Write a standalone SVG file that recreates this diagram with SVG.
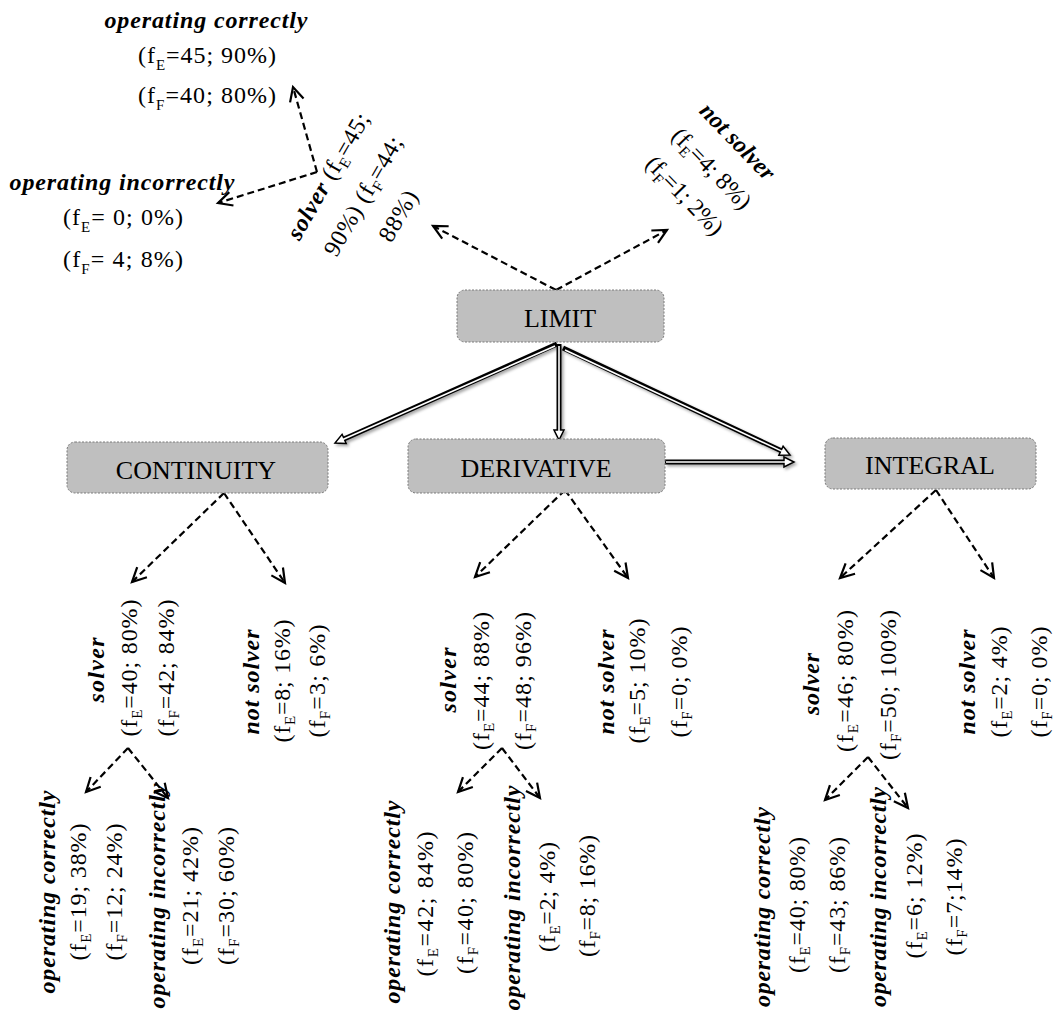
<svg xmlns="http://www.w3.org/2000/svg" width="1055" height="1010" viewBox="0 0 1055 1010">
<style>
.box{fill:#bfbfbf;stroke:#7a7a7a;stroke-width:1;stroke-dasharray:2 1.5}
.bt{font-family:"Liberation Serif","Times New Roman",serif;font-size:26px;text-anchor:middle;fill:#000}
.t{font-family:"Liberation Serif","Times New Roman",serif;font-size:24px;fill:#000;text-anchor:middle}
.bi{font-weight:bold;font-style:italic}
.s{font-size:15px}
.dash{stroke:#000;stroke-width:2.2;stroke-dasharray:7 4;fill:none;marker-end:url(#v)}
.dbl{stroke:#000;stroke-width:5;fill:none;marker-end:url(#h)}
.dbi{stroke:#fff;stroke-width:1.6;fill:none}
</style>
<defs>
<marker id="v" markerUnits="userSpaceOnUse" orient="auto" refX="0" refY="0" markerWidth="20" markerHeight="20" overflow="visible">
<path d="M-14,-7 L0,0 L-14,7" fill="none" stroke="#000" stroke-width="2.2"/>
</marker>
<marker id="h" markerUnits="userSpaceOnUse" orient="auto" refX="2" refY="0" markerWidth="14" markerHeight="14" overflow="visible">
<path d="M0,-5 L10,0 L0,5 Z" fill="#fff" stroke="#000" stroke-width="1.5"/>
</marker>
<filter id="sh" x="-10%" y="-10%" width="130%" height="130%">
<feDropShadow dx="2" dy="2" stdDeviation="1.5" flood-color="#000" flood-opacity="0.35"/>
</filter>
</defs>

<g id="connectors">
<g filter="url(#sh)">
<path class="dbl" d="M557,344 L342.3,439.7"/>
<path class="dbl" d="M559,344 L559,432"/>
<path class="dbl" d="M563,348 L782.8,451.6"/>
<path class="dbl" d="M665,462 L786,462"/>
</g>
<path class="dbi" d="M555,346 L342.3,439.7"/>
<path class="dbi" d="M559,346 L559,432"/>
<path class="dbi" d="M565,350 L782.8,451.6"/>
<path class="dbi" d="M666,462 L786,462"/>

<path class="dash" d="M556,290 L433,226"/>
<path class="dash" d="M556,290 L667,230"/>
<path class="dash" d="M317,172 L293,87"/>
<path class="dash" d="M317,172 L218,203"/>

<path class="dash" d="M224,493 L132,582"/>
<path class="dash" d="M224,493 L285,583"/>
<path class="dash" d="M565,490 L475,577"/>
<path class="dash" d="M565,490 L628,578"/>
<path class="dash" d="M936,490 L840,578"/>
<path class="dash" d="M936,490 L994,578"/>

<path class="dash" d="M128,748 L86,792"/>
<path class="dash" d="M128,748 L168,798"/>
<path class="dash" d="M502,748 L458,792"/>
<path class="dash" d="M502,748 L540,798"/>
<path class="dash" d="M868,757 L825,800"/>
<path class="dash" d="M868,757 L908,808"/>
</g>

<g id="limit">
<rect class="box" x="457" y="290" width="207" height="52" rx="8"/>
<text class="bt" x="560" y="327">LIMIT</text>
</g>
<g id="continuity">
<rect class="box" x="67" y="442" width="261" height="51" rx="8"/>
<text class="bt" x="196" y="479">CONTINUITY</text>
</g>
<g id="derivative">
<rect class="box" x="408" y="439" width="257" height="54" rx="8"/>
<text class="bt" x="536" y="477">DERIVATIVE</text>
</g>
<g id="integral">
<rect class="box" x="825" y="438" width="211" height="51" rx="8"/>
<text class="bt" x="930" y="474">INTEGRAL</text>
</g>

<g id="limit-solver">
<text class="t" transform="translate(335,180) rotate(-60)" textLength="142" lengthAdjust="spacing"><tspan class="bi">solver</tspan> (f<tspan class="s" dy="5">E</tspan><tspan dy="-5">=45;</tspan></text>
<text class="t" transform="translate(370,200) rotate(-60)" textLength="134" lengthAdjust="spacing">90%) (f<tspan class="s" dy="5">F</tspan><tspan dy="-5">=44;</tspan></text>
<text class="t" transform="translate(405,220) rotate(-60)" textLength="55" lengthAdjust="spacing">88%)</text>
</g>
<g id="limit-solver-correct">
<text class="t bi" x="206" y="28" textLength="203" lengthAdjust="spacing">operating correctly</text>
<text class="t" x="207" y="63" textLength="138" lengthAdjust="spacing">(f<tspan class="s" dy="7">E</tspan><tspan dy="-7">=45; 90%)</tspan></text>
<text class="t" x="207" y="103" textLength="138" lengthAdjust="spacing">(f<tspan class="s" dy="7">F</tspan><tspan dy="-7">=40; 80%)</tspan></text>
</g>
<g id="limit-solver-incorrect">
<text class="t bi" x="122" y="190" textLength="225" lengthAdjust="spacing">operating incorrectly</text>
<text class="t" x="123" y="225" textLength="120" lengthAdjust="spacing">(f<tspan class="s" dy="7">E</tspan><tspan dy="-7">= 0; 0%)</tspan></text>
<text class="t" x="123" y="267" textLength="120" lengthAdjust="spacing">(f<tspan class="s" dy="7">F</tspan><tspan dy="-7">= 4; 8%)</tspan></text>
</g>
<g id="limit-notsolver">
<text class="t bi" transform="translate(732,147) rotate(46)" textLength="97" lengthAdjust="spacing">not solver</text>
<text class="t" transform="translate(706,174) rotate(46)" textLength="103" lengthAdjust="spacing">(f<tspan class="s" dy="5">E</tspan><tspan dy="-5">=4; 8%)</tspan></text>
<text class="t" transform="translate(679,201) rotate(46)" textLength="100" lengthAdjust="spacing">(f<tspan class="s" dy="5">F</tspan><tspan dy="-5">=1; 2%)</tspan></text>
</g>

<g id="continuity-solver">
<text class="t bi" transform="translate(104,670) rotate(-90)" textLength="65" lengthAdjust="spacing">solver</text>
<text class="t" transform="translate(137,668) rotate(-90)" textLength="137" lengthAdjust="spacing">(f<tspan class="s" dy="5">E</tspan><tspan dy="-5">=40; 80%)</tspan></text>
<text class="t" transform="translate(174,668) rotate(-90)" textLength="137" lengthAdjust="spacing">(f<tspan class="s" dy="5">F</tspan><tspan dy="-5">=42; 84%)</tspan></text>
</g>
<g id="continuity-notsolver">
<text class="t bi" transform="translate(259,682) rotate(-90)" textLength="105" lengthAdjust="spacing">not solver</text>
<text class="t" transform="translate(290,681) rotate(-90)" textLength="123" lengthAdjust="spacing">(f<tspan class="s" dy="5">E</tspan><tspan dy="-5">=8; 16%)</tspan></text>
<text class="t" transform="translate(325,681) rotate(-90)" textLength="113" lengthAdjust="spacing">(f<tspan class="s" dy="5">F</tspan><tspan dy="-5">=3; 6%)</tspan></text>
</g>
<g id="continuity-correct">
<text class="t bi" transform="translate(55,892) rotate(-90)" textLength="203" lengthAdjust="spacing">operating correctly</text>
<text class="t" transform="translate(86,892) rotate(-90)" textLength="137" lengthAdjust="spacing">(f<tspan class="s" dy="5">E</tspan><tspan dy="-5">=19; 38%)</tspan></text>
<text class="t" transform="translate(122,892) rotate(-90)" textLength="137" lengthAdjust="spacing">(f<tspan class="s" dy="5">F</tspan><tspan dy="-5">=12; 24%)</tspan></text>
</g>
<g id="continuity-incorrect">
<text class="t bi" transform="translate(165,896) rotate(-90)" textLength="225" lengthAdjust="spacing">operating incorrectly</text>
<text class="t" transform="translate(198,896) rotate(-90)" textLength="138" lengthAdjust="spacing">(f<tspan class="s" dy="5">E</tspan><tspan dy="-5">=21; 42%)</tspan></text>
<text class="t" transform="translate(234,896) rotate(-90)" textLength="138" lengthAdjust="spacing">(f<tspan class="s" dy="5">F</tspan><tspan dy="-5">=30; 60%)</tspan></text>
</g>

<g id="derivative-solver">
<text class="t bi" transform="translate(456,680) rotate(-90)" textLength="65" lengthAdjust="spacing">solver</text>
<text class="t" transform="translate(489,681) rotate(-90)" textLength="138" lengthAdjust="spacing">(f<tspan class="s" dy="5">E</tspan><tspan dy="-5">=44; 88%)</tspan></text>
<text class="t" transform="translate(531,681) rotate(-90)" textLength="138" lengthAdjust="spacing">(f<tspan class="s" dy="5">F</tspan><tspan dy="-5">=48; 96%)</tspan></text>
</g>
<g id="derivative-notsolver">
<text class="t bi" transform="translate(614,682) rotate(-90)" textLength="105" lengthAdjust="spacing">not solver</text>
<text class="t" transform="translate(645,681) rotate(-90)" textLength="125" lengthAdjust="spacing">(f<tspan class="s" dy="5">E</tspan><tspan dy="-5">=5; 10%)</tspan></text>
<text class="t" transform="translate(687,682) rotate(-90)" textLength="111" lengthAdjust="spacing">(f<tspan class="s" dy="5">F</tspan><tspan dy="-5">=0; 0%)</tspan></text>
</g>
<g id="derivative-correct">
<text class="t bi" transform="translate(400,902) rotate(-90)" textLength="203" lengthAdjust="spacing">operating correctly</text>
<text class="t" transform="translate(433,904) rotate(-90)" textLength="145" lengthAdjust="spacing">(f<tspan class="s" dy="5">E</tspan><tspan dy="-5">=42; 84%)</tspan></text>
<text class="t" transform="translate(473,903) rotate(-90)" textLength="142" lengthAdjust="spacing">(f<tspan class="s" dy="5">F</tspan><tspan dy="-5">=40; 80%)</tspan></text>
</g>
<g id="derivative-incorrect">
<text class="t bi" transform="translate(520,898) rotate(-90)" textLength="225" lengthAdjust="spacing">operating incorrectly</text>
<text class="t" transform="translate(555,897) rotate(-90)" textLength="110" lengthAdjust="spacing">(f<tspan class="s" dy="5">E</tspan><tspan dy="-5">=2; 4%)</tspan></text>
<text class="t" transform="translate(595,896) rotate(-90)" textLength="122" lengthAdjust="spacing">(f<tspan class="s" dy="5">F</tspan><tspan dy="-5">=8; 16%)</tspan></text>
</g>

<g id="integral-solver">
<text class="t bi" transform="translate(819,684) rotate(-90)" textLength="62" lengthAdjust="spacing">solver</text>
<text class="t" transform="translate(853,681) rotate(-90)" textLength="142" lengthAdjust="spacing">(f<tspan class="s" dy="5">E</tspan><tspan dy="-5">=46; 80%)</tspan></text>
<text class="t" transform="translate(896,685) rotate(-90)" textLength="150" lengthAdjust="spacing">(f<tspan class="s" dy="5">F</tspan><tspan dy="-5">=50; 100%)</tspan></text>
</g>
<g id="integral-notsolver">
<text class="t bi" transform="translate(975,682) rotate(-90)" textLength="105" lengthAdjust="spacing">not solver</text>
<text class="t" transform="translate(1007,682) rotate(-90)" textLength="111" lengthAdjust="spacing">(f<tspan class="s" dy="5">E</tspan><tspan dy="-5">=2; 4%)</tspan></text>
<text class="t" transform="translate(1047,682) rotate(-90)" textLength="111" lengthAdjust="spacing">(f<tspan class="s" dy="5">F</tspan><tspan dy="-5">=0; 0%)</tspan></text>
</g>
<g id="integral-correct">
<text class="t bi" transform="translate(770,907) rotate(-90)" textLength="200" lengthAdjust="spacing">operating correctly</text>
<text class="t" transform="translate(805,905) rotate(-90)" textLength="136" lengthAdjust="spacing">(f<tspan class="s" dy="5">E</tspan><tspan dy="-5">=40; 80%)</tspan></text>
<text class="t" transform="translate(845,905) rotate(-90)" textLength="136" lengthAdjust="spacing">(f<tspan class="s" dy="5">F</tspan><tspan dy="-5">=43; 86%)</tspan></text>
</g>
<g id="integral-incorrect">
<text class="t bi" transform="translate(886,897) rotate(-90)" textLength="220" lengthAdjust="spacing">operating incorrectly</text>
<text class="t" transform="translate(922,896) rotate(-90)" textLength="125" lengthAdjust="spacing">(f<tspan class="s" dy="5">E</tspan><tspan dy="-5">=6; 12%)</tspan></text>
<text class="t" transform="translate(962,897) rotate(-90)" textLength="117" lengthAdjust="spacing">(f<tspan class="s" dy="5">F</tspan><tspan dy="-5">=7;14%)</tspan></text>
</g>
</svg>
